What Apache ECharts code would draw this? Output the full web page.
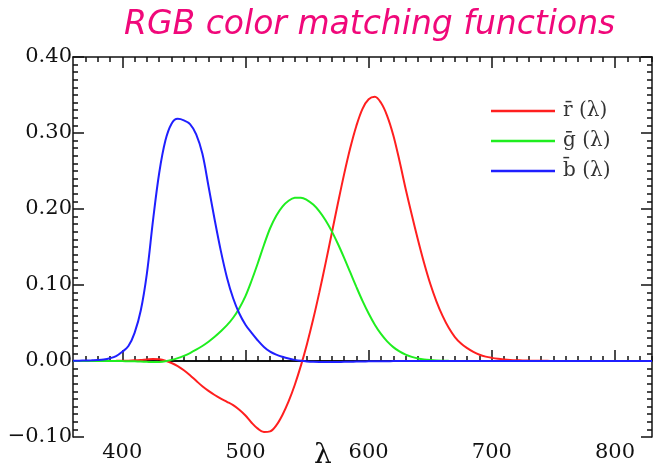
<!DOCTYPE html>
<html>
<head>
<meta charset="utf-8">
<script src="https://cdn.jsdelivr.net/npm/echarts@6/dist/echarts.min.js"></script>
<style>
  html, body { margin: 0; padding: 0; background: #fff; }
  #chart { width: 656px; height: 466px; }
</style>
</head>
<body>
<div id="chart"></div>
<script>
// Wavelengths (nm), 5 nm steps
const wavelengths = [
  360, 365, 370, 375, 380, 385, 390, 395, 400, 405, 410, 415, 420, 425, 430, 435,
  440, 445, 450, 455, 460, 465, 470, 475, 480, 485, 490, 495, 500, 505, 510, 515,
  520, 525, 530, 535, 540, 545, 550, 555, 560, 565, 570, 575, 580, 585, 590, 595,
  600, 605, 610, 615, 620, 625, 630, 635, 640, 645, 650, 655, 660, 665, 670, 675,
  680, 685, 690, 695, 700, 705, 710, 715, 720, 725, 730, 735, 740, 745, 750, 755,
  760, 765, 770, 775, 780, 785, 790, 795, 800, 805, 810, 815, 820, 825, 830
];

// r-bar(lambda)
const rBar = [
  0.00000, 0.00001, 0.00001, 0.00002, 0.00003, 0.00005, 0.00010, 0.00017,
  0.00030, 0.00047, 0.00084, 0.00139, 0.00211, 0.00266, 0.00218, 0.00036,
  -0.00261, -0.00673, -0.01213, -0.01874, -0.02608, -0.03324, -0.03933, -0.04471,
  -0.04939, -0.05364, -0.05814, -0.06414, -0.07173, -0.08120, -0.08901, -0.09356,
  -0.09264, -0.08473, -0.07101, -0.05316, -0.03152, -0.00613, 0.02279, 0.05514,
  0.09060, 0.12840, 0.16768, 0.20715, 0.24526, 0.27989, 0.30928, 0.33184,
  0.34429, 0.34756, 0.33971, 0.32265, 0.29708, 0.26348, 0.22677, 0.19233,
  0.15968, 0.12905, 0.10167, 0.07857, 0.05932, 0.04366, 0.03149, 0.02294,
  0.01687, 0.01187, 0.00819, 0.00572, 0.00410, 0.00291, 0.00210, 0.00148,
  0.00105, 0.00074, 0.00052, 0.00036, 0.00025, 0.00017, 0.00012, 0.00008,
  0.00006, 0.00004, 0.00003, 0.00001, 0.00000, 0, 0, 0, 0, 0, 0, 0, 0, 0, 0
];

// g-bar(lambda)
const gBar = [
  0.00000, 0.00000, 0.00000, -0.00001, -0.00001, -0.00002, -0.00004, -0.00007,
  -0.00014, -0.00022, -0.00041, -0.00070, -0.00110, -0.00143, -0.00119, -0.00021,
  0.00149, 0.00379, 0.00678, 0.01046, 0.01485, 0.01977, 0.02538, 0.03183,
  0.03914, 0.04713, 0.05689, 0.06948, 0.08536, 0.10593, 0.12860, 0.15262,
  0.17468, 0.19113, 0.20317, 0.21083, 0.21466, 0.21487, 0.21178, 0.20588,
  0.19702, 0.18522, 0.17087, 0.15429, 0.13610, 0.11686, 0.09754, 0.07909,
  0.06246, 0.04776, 0.03557, 0.02583, 0.01828, 0.01253, 0.00833, 0.00537,
  0.00334, 0.00199, 0.00116, 0.00066, 0.00037, 0.00021, 0.00011, 0.00006,
  0.00003, 0.00001, 0.00000, 0, 0, 0, 0, 0, 0, 0, 0, 0, 0, 0, 0, 0,
  0, 0, 0, 0, 0, 0, 0, 0, 0, 0, 0, 0, 0, 0, 0
];

// b-bar(lambda)
const bBar = [
  0.00020, 0.00040, 0.00060, 0.00085, 0.00117, 0.00189, 0.00359, 0.00647,
  0.01214, 0.01969, 0.03707, 0.06637, 0.11541, 0.18575, 0.24769, 0.29012,
  0.31228, 0.31860, 0.31670, 0.31166, 0.29821, 0.27295, 0.22991, 0.18592,
  0.14494, 0.10968, 0.08257, 0.06246, 0.04776, 0.03688, 0.02698, 0.01842,
  0.01221, 0.00830, 0.00549, 0.00320, 0.00146, 0.00023, -0.00058, -0.00105,
  -0.00130, -0.00138, -0.00135, -0.00123, -0.00108, -0.00093, -0.00079, -0.00063,
  -0.00049, -0.00038, -0.00030, -0.00022, -0.00015, -0.00011, -0.00008, -0.00005,
  -0.00003, -0.00002, -0.00001, -0.00001, 0, 0, 0, 0, 0, 0, 0, 0, 0, 0, 0, 0,
  0, 0, 0, 0, 0, 0, 0, 0, 0, 0, 0, 0, 0, 0, 0, 0, 0, 0, 0, 0, 0, 0, 0
];

// Axis ticks
const xMajorTicks = [400, 500, 600, 700, 800];
const xMinorTicks = [
  370, 380, 390, 410, 420, 430, 440, 450, 460, 470, 480, 490, 510, 520, 530, 540,
  550, 560, 570, 580, 590, 610, 620, 630, 640, 650, 660, 670, 680, 690, 710, 720,
  730, 740, 750, 760, 770, 780, 790, 810, 820, 830
];

const seriesNames = ['r\u0304 (\u03bb)', 'g\u0304 (\u03bb)', 'b\u0304 (\u03bb)'];
const seriesColors = ['#ff1f1f', '#1fee1f', '#1f1fff'];

const zip = (ys) => wavelengths.map((x, i) => [x, ys[i]]);

const serif = 'DejaVu Serif';
const ink = '#111';

function xAxisDef(position, ticks, len, withLabels) {
  return {
    type: 'value', position: position, min: 360, max: 830,
    axisLine: { show: withLabels, lineStyle: { color: ink, width: 1.5 } },
    axisTick: { show: true, inside: true, length: len, customValues: ticks,
                lineStyle: { color: ink, width: 1.5 } },
    axisLabel: withLabels && position === 'bottom'
      ? { show: true, customValues: xMajorTicks, margin: 5, color: ink,
          fontFamily: serif, fontSize: 21 }
      : { show: false },
    splitLine: { show: false }
  };
}

function yAxisDef(position, withLabels) {
  return {
    type: 'value', position: position, min: -0.1, max: 0.4, interval: 0.1,
    axisLine: { show: true, lineStyle: { color: ink, width: 1.5 } },
    axisTick: { show: true, inside: true, length: 11, lineStyle: { color: ink, width: 1.5 } },
    minorTick: { show: true, splitNumber: 10, length: 5, lineStyle: { color: ink, width: 1.5 } },
    axisLabel: withLabels
      ? { show: true, margin: 1, color: ink, fontFamily: serif, fontSize: 21,
          formatter: (v) => (v < 0 ? '\u2212' : '') + Math.abs(v).toFixed(2) }
      : { show: false },
    splitLine: { show: false }
  };
}

const chart = echarts.init(document.getElementById('chart'), null, { renderer: 'canvas' });

chart.setOption({
  animation: false,
  backgroundColor: '#fff',
  title: {
    text: 'RGB color matching functions',
    left: 119, top: 4,
    textStyle: { color: '#f0087a', fontFamily: 'DejaVu Sans', fontStyle: 'italic',
                 fontWeight: 'normal', fontSize: 33 }
  },
  grid: { left: 73, right: 4, top: 57, bottom: 29, containLabel: false },
  legend: {
    data: seriesNames,
    orient: 'vertical', left: 486, top: 96, padding: 5,
    icon: 'rect', itemWidth: 64, itemHeight: 2.5, itemGap: 10,
    textStyle: { color: '#333', fontFamily: serif, fontSize: 20, padding: [0, 0, 0, 3] }
  },
  xAxis: [
    xAxisDef('bottom', xMajorTicks, 11, true),
    xAxisDef('bottom', xMinorTicks, 5, false),
    xAxisDef('top', xMajorTicks, 11, true),
    xAxisDef('top', xMinorTicks, 5, false)
  ],
  yAxis: [
    yAxisDef('left', true),
    yAxisDef('right', false)
  ],
  graphic: [{
    type: 'text', left: 314, top: 442,
    style: { text: '\u03bb', fill: ink, font: '28px "DejaVu Serif"' }
  }],
  series: [
    {
      name: 'zero', type: 'line', data: [[360, 0], [830, 0]],
      symbol: 'none', silent: true, z: 1,
      lineStyle: { color: '#000', width: 1.5 }
    },
    ...seriesNames.map((name, k) => ({
      name: name, type: 'line', data: zip([rBar, gBar, bBar][k]),
      symbol: 'none', showSymbol: false, smooth: 0.35, z: 2 + k,
      color: seriesColors[k],
      lineStyle: { color: seriesColors[k], width: 2 }
    }))
  ]
});
</script>
</body>
</html>
